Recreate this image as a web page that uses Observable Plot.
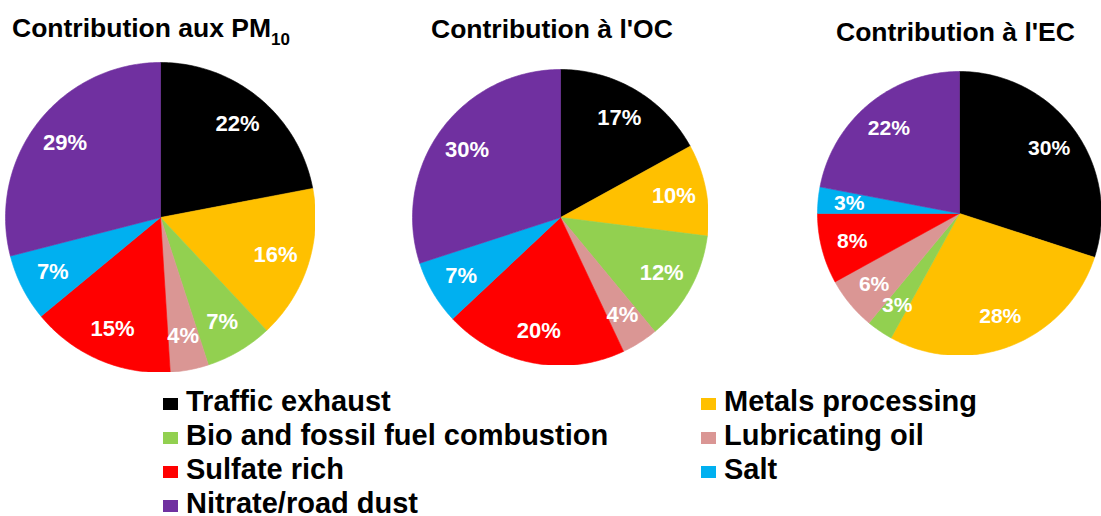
<!DOCTYPE html>
<html><head><meta charset="utf-8">
<script src="https://cdn.jsdelivr.net/npm/d3@7"></script>
<script src="https://cdn.jsdelivr.net/npm/@observablehq/plot@0.6"></script>
<style>
html,body{margin:0;padding:0;background:#fff}
body{width:1101px;height:516px;overflow:hidden;position:relative;font-family:"Liberation Sans",Arial,sans-serif;color:#000}
.title{position:absolute;font-weight:bold;font-size:26.5px;line-height:1;white-space:nowrap}
.title sub{font-size:17px;vertical-align:-8px;line-height:0}
.pie{position:absolute}
.pie svg{background:transparent;display:block}
.leg{position:absolute;font-weight:bold;font-size:29px;line-height:25px;height:25px;white-space:nowrap}
.leg .sw{position:absolute;left:0;top:9px;width:15px;height:12px}
.leg .tx{position:absolute;left:23px;top:0}
</style></head><body>
<script>
// ---- data ----
const categories = ["Traffic exhaust","Metals processing","Bio and fossil fuel combustion","Lubricating oil","Sulfate rich","Salt","Nitrate/road dust"];
const colors = ["#000000","#FFC000","#92D050","#DA9694","#FF0000","#00B0F0","#7030A0"];
const pm10Values = [22,16,7,4,15,7,29];
const ocValues = [17,10,12,4,20,7,30];
const ecValues = [30,28,3,6,8,3,22];
const titleTexts = ["Contribution aux PM","Contribution à l'OC","Contribution à l'EC"];
const titleSubs = ["10","",""];

// ---- layout ----
const pies = [
  {values: pm10Values, cx:160, cy:217, r:155, tx:12, ty:15},
  {values: ocValues,   cx:560, cy:217, r:148, tx:431, ty:16},
  {values: ecValues,   cx:965, cy:219, r:148, tx:836, ty:19}
];

function buildPie(values){
  const total = d3.sum(values);
  const pts = [], labels = [];
  let acc = 0;
  values.forEach((v,i)=>{
    const a0 = acc/total*2*Math.PI, a1 = (acc+v)/total*2*Math.PI;
    const cat = categories[i], color = colors[i];
    pts.push({cat, color, x:0, y:0});
    const n = Math.max(2, Math.ceil((a1-a0)/(Math.PI/180)));
    for(let k=0;k<=n;k++){const a=a0+(a1-a0)*k/n; pts.push({cat, color, x:Math.sin(a), y:Math.cos(a)});}
    pts.push({cat, color, x:0, y:0});
    const am=(a0+a1)/2;
    labels.push({x:0.78*Math.sin(am), y:0.78*Math.cos(am), text: v+"%"});
    acc += v;
  });
  return {pts, labels};
}

pies.forEach((p,idx)=>{
  const {pts, labels} = buildPie(p.values);
  const size = 2*p.r;
  const chart = Plot.plot({
    width: size, height: size, margin: 0,
    style: {background:"transparent", fontFamily:"'Liberation Sans', Arial, sans-serif"},
    x: {domain:[-1,1], axis:null},
    y: {domain:[-1,1], axis:null},
    color: {type:"identity"},
    marks: [
      Plot.line(pts, {x:"x", y:"y", z:"cat", fill:"color", stroke:"color", strokeWidth:0.6, curve:"linear"}),
      Plot.text(labels, {x:"x", y:"y", text:"text", fill:"white", fontSize:22, fontWeight:"bold"})
    ]
  });
  const div = document.createElement("div");
  div.className = "pie";
  div.style.left = (p.cx - p.r) + "px";
  div.style.top = (p.cy - p.r) + "px";
  div.appendChild(chart);
  document.body.appendChild(div);

  const t = document.createElement("div");
  t.className = "title";
  t.style.left = p.tx + "px";
  t.style.top = p.ty + "px";
  t.appendChild(document.createTextNode(titleTexts[idx]));
  if (titleSubs[idx]) { const s = document.createElement("sub"); s.textContent = titleSubs[idx]; t.appendChild(s); }
  document.body.appendChild(t);
});

// legend: two columns, row-major order
const colX = [163, 701];
categories.forEach((c,i)=>{
  const col = i % 2, row = Math.floor(i/2);
  const d = document.createElement("div");
  d.className = "leg";
  d.style.left = colX[col] + "px";
  d.style.top = (389 + 34*row) + "px";
  const sw = document.createElement("span"); sw.className="sw"; sw.style.background = colors[i];
  const tx = document.createElement("span"); tx.className="tx"; tx.textContent = c;
  d.appendChild(sw); d.appendChild(tx);
  document.body.appendChild(d);
});
</script>
</body></html>
